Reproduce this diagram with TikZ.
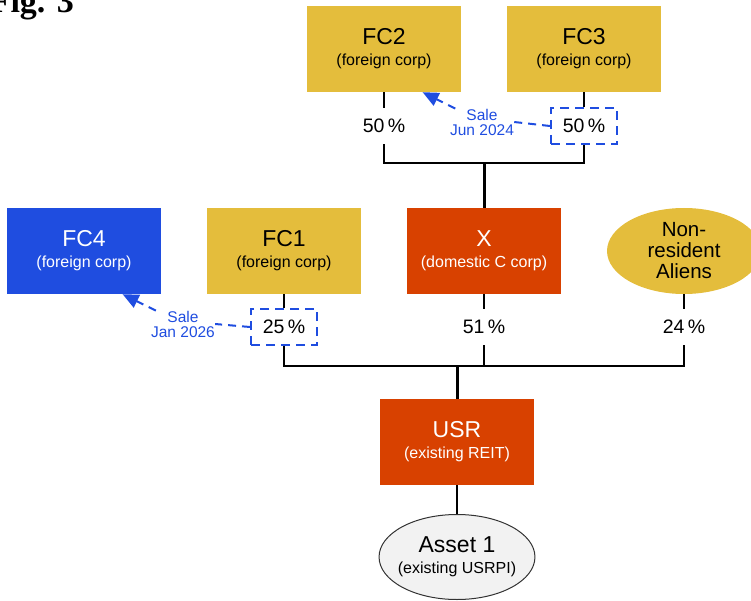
\documentclass[tikz,border=0pt]{standalone}
\usepackage{fontspec}
\setmainfont{Liberation Sans}
\newfontfamily\figfont{Liberation Serif}
\usepackage{tikz}
\usetikzlibrary{shapes.geometric}
\usetikzlibrary{arrows.meta}
\usetikzlibrary{calc}
\definecolor{corpgold}{HTML}{E4BD3C}
\definecolor{corpblue}{HTML}{1F4DE0}
\definecolor{corpred}{HTML}{D84100}
\definecolor{assetgray}{HTML}{F2F2F2}
\newcommand{\namefont}{\fontsize{23}{25}\selectfont}
\newcommand{\kindfont}{\fontsize{16}{18}\selectfont}
\newcommand{\pctfont}{\fontsize{19.5}{21}\selectfont}
\newcommand{\salefont}{\fontsize{15.5}{15}\selectfont}
\newcommand{\ent}[2]{{\namefont #1}\\[3pt]#2}
\tikzstyle{every node}=[inner sep=0pt,align=center]
\tikzstyle{entity}=[rectangle,minimum width=154pt,minimum height=86pt,font=\kindfont]
\tikzstyle{foreign}=[entity,fill=corpgold]
\tikzstyle{sold}=[entity,fill=corpblue,text=white]
\tikzstyle{domestic}=[entity,fill=corpred,text=white]
\tikzstyle{share}=[minimum width=66pt,minimum height=36pt,font=\pctfont]
\tikzstyle{moved}=[share,draw=corpblue,line width=2pt,dash pattern=on 9pt off 6pt]
\tikzstyle{link}=[line width=1.6pt]
\tikzstyle{trunk}=[line width=3pt]
\tikzstyle{sale}=[text=corpblue,font=\salefont]
\tikzstyle{salelink}=[draw=corpblue,line width=2pt,dash pattern=on 8pt off 6pt]
\tikzstyle{saleto}=[salelink,-{Triangle[length=16pt,width=14pt]}]

\begin{document}
\begin{tikzpicture}[x=1pt,y=-1pt]
  \useasboundingbox (0,0) rectangle (751,601);
  \clip (0,0) rectangle (751,601);
  \node [anchor=base east,font=\figfont\bfseries\fontsize{34}{34}\selectfont] (fig) at (74,12.5) {Fig. 3};
  % owners
  \node [foreign] (FC2) at (384,49) {\ent{FC2}{(foreign corp)}};
  \node [foreign] (FC3) at (584,49) {\ent{FC3}{(foreign corp)}};
  \node [sold] (FC4) at (84,251) {\ent{FC4}{(foreign corp)}};
  \node [foreign] (FC1) at (284,251) {\ent{FC1}{(foreign corp)}};
  \node [domestic] (X) at (484,251) {\ent{X}{(domestic C corp)}};
  \node [ellipse,fill=corpgold,minimum width=154pt,minimum height=86pt,
    font=\fontsize{20.5}{21}\selectfont] (NRA) at (684,251) {Non-\\resident\\Aliens};
  \node [domestic] (USR) at (457,442) {\ent{USR}{(existing REIT)}};
  \node [ellipse,draw=black!80,line width=1pt,fill=assetgray,inner xsep=-4pt,
    minimum width=155pt,minimum height=85pt,font=\kindfont] (asset) at (457,557) {\ent{Asset 1}{(existing USRPI)}};
  % shares
  \node [share] (p2) at (384,126) {50\,\%};
  \node [moved] (p3) at (584,126) {50\,\%};
  \node [moved] (p1) at (284,327) {25\,\%};
  \node [share] (pX) at (484,327) {51\,\%};
  \node [share] (pN) at (684,327) {24\,\%};
  \coordinate (top) at (484,163);
  \coordinate (mid) at (457,366);
  \draw [link] (FC2) -- (p2);
  \draw [link] (FC3) -- (p3);
  \draw [link] (p2.south) |- (top) -| (p3.south);
  \draw [trunk] (top) -- (X);
  \draw [link] (FC1) -- (p1);
  \draw [link] (X) -- (pX);
  \draw [link] (NRA) -- (pN);
  \draw [link] (p1.south) |- (mid) -| (pN.south);
  \draw [link] (pX.south) -- (pX.south |- mid);
  \draw [trunk] (mid) -- (USR);
  \draw [link] (USR) -- (asset);
  % sales
  \node [sale] (sale1) at (482,122) {Sale\\Jun 2024};
  \node [sale] (sale2) at (183,324) {Sale\\Jan 2026};
  \draw [salelink] (p3.west) -- (sale1.east);
  \draw [saleto] (sale1) -- ($(FC2.south)!0.5!(FC2.south east)$);
  \draw [salelink] (p1.west) -- (sale2.east);
  \draw [saleto] (sale2) -- ($(FC4.south)!0.5!(FC4.south east)$);
\end{tikzpicture}
\end{document}
